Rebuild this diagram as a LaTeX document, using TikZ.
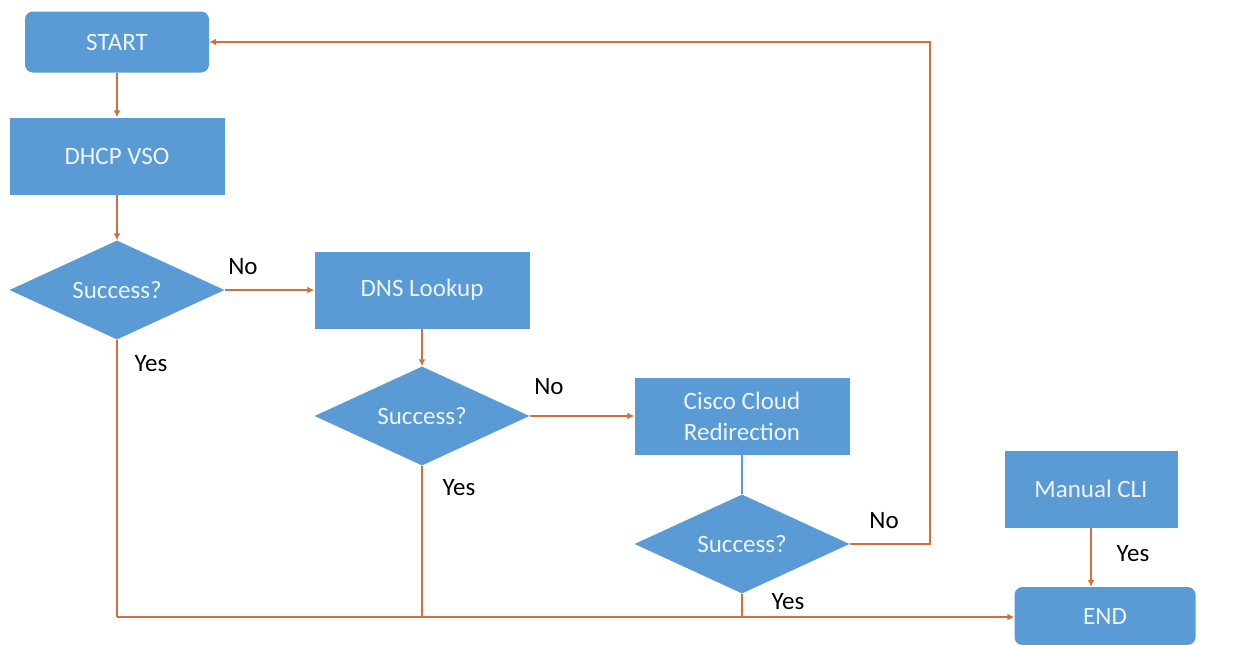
\documentclass[tikz,border=0pt]{standalone}
\usepackage{fontspec}
\setmainfont{Carlito}
\usetikzlibrary{shapes.geometric,arrows.meta}
\definecolor{boxblue}{HTML}{5A9BD5}
\definecolor{lineor}{HTML}{D0703A}
\definecolor{txtw}{HTML}{EEF4FB}
\tikzset{
  x=1pt,y=-1pt,
  base/.style={fill=boxblue,draw=none,text=txtw,font=\fontsize{25}{31}\selectfont,align=center,inner sep=0pt},
  procbox/.style={base,rectangle,minimum width=215pt,minimum height=77pt},
  termbox/.style={base,rectangle,rounded corners=8pt},
  decis/.style={base,diamond,minimum width=215pt,minimum height=99pt,aspect=2.17},
  conn/.style={draw=lineor,line width=2.6pt,-{Latex[length=7pt,width=7pt]}},
  plain/.style={draw=lineor,line width=2.6pt},
  lbl/.style={font=\fontsize{25}{30}\selectfont,text=black,inner sep=0pt}
}
\begin{document}
\begin{tikzpicture}
\useasboundingbox (0,0) rectangle (1242,645);
\fill[white] (0,0) rectangle (1242,645);
\node[termbox,minimum width=184pt,minimum height=61pt] (start) at (117,42) {START};
\node[procbox] (dhcp) at (117,156) {DHCP VSO};
\node[decis] (d1) at (117,290) {Success?};
\node[procbox] (dns) at (422,290) {DNS Lookup};
\node[decis] (d2) at (422,416) {Success?};
\node[procbox] (cloud) at (742,416) {Cisco Cloud\\Redirection};
\node[decis] (d3) at (742,544) {Success?};
\node[procbox,minimum width=173pt] (cli) at (1091,489) {Manual CLI};
\node[termbox,minimum width=181pt,minimum height=58pt] (end) at (1105,616) {END};
\coordinate (r1) at (930,544);
\coordinate (r2) at (930,42);
\coordinate (b1) at (117,617);
\coordinate (b2) at (422,617);
\coordinate (b3) at (742,617);

\draw[conn] (start) -- (dhcp);
\draw[conn] (dhcp) -- (d1);
\draw[conn] (d1.east) -- (dns.west);
\draw[conn] (dns) -- (d2);
\draw[conn] (d2.east) -- (cloud.west);
\draw[draw=boxblue,line width=2.6pt] (cloud) -- (d3);
\draw[conn] (d3.east) -- (r1) -- (r2) -- (start.east);
\draw[plain] (d1.south) -- (b1);
\draw[plain] (d2.south) -- (b2);
\draw[plain] (d3.south) -- (b3);
\draw[conn] (b1) -- (end.west |- b1);
\draw[conn] (cli) -- (end.north -| cli);

\node[lbl] (l1) at (243,267) {No};
\node[lbl] (l2) at (151,364) {Yes};
\node[lbl] (l3) at (549,387) {No};
\node[lbl] (l4) at (459,488) {Yes};
\node[lbl] (l5) at (884,521) {No};
\node[lbl] (l6) at (788,602) {Yes};
\node[lbl] (l7) at (1133,554) {Yes};
\end{tikzpicture}
\end{document}
